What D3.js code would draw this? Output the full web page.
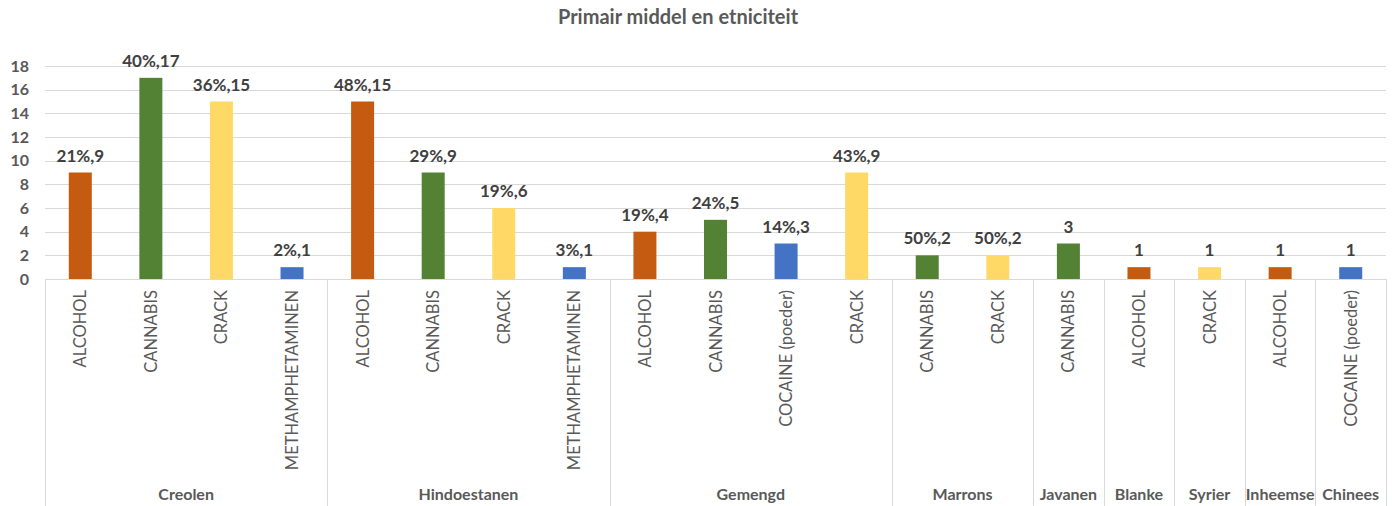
<!DOCTYPE html>
<html>
<head>
<meta charset="utf-8">
<script src="https://cdn.jsdelivr.net/npm/d3@7"></script>
<style>
  body { margin: 0; background: #fff; }
  text { font-family: Lato, "Open Sans", sans-serif; }
</style>
</head>
<body>
<div id="chart"></div>
<script>
// data
var groups = ["Creolen", "Creolen", "Creolen", "Creolen",
  "Hindoestanen", "Hindoestanen", "Hindoestanen", "Hindoestanen",
  "Gemengd", "Gemengd", "Gemengd", "Gemengd",
  "Marrons", "Marrons", "Javanen", "Blanke", "Syrier", "Inheemse", "Chinees"];
var drugs = ["ALCOHOL", "CANNABIS", "CRACK", "METHAMPHETAMINEN",
  "ALCOHOL", "CANNABIS", "CRACK", "METHAMPHETAMINEN",
  "ALCOHOL", "CANNABIS", "COCAINE (poeder)", "CRACK",
  "CANNABIS", "CRACK", "CANNABIS", "ALCOHOL", "CRACK", "ALCOHOL", "COCAINE (poeder)"];
var values = [9, 17, 15, 1, 15, 9, 6, 1, 4, 5, 3, 9, 2, 2, 3, 1, 1, 1, 1];
var valueLabels = ["21%,9", "40%,17", "36%,15", "2%,1", "48%,15", "29%,9", "19%,6", "3%,1",
  "19%,4", "24%,5", "14%,3", "43%,9", "50%,2", "50%,2", "3", "1", "1", "1", "1"];
var yTicks = [0, 2, 4, 6, 8, 10, 12, 14, 16, 18];

var drugColor = {
  "ALCOHOL": "#C55A11",
  "CANNABIS": "#548235",
  "CRACK": "#FFD966",
  "METHAMPHETAMINEN": "#4472C4",
  "COCAINE (poeder)": "#4472C4"
};

var W = 1392, H = 506;
var margin = { top: 66, right: 6, bottom: 227, left: 45 };
var width = W - margin.left - margin.right,
    height = H - margin.top - margin.bottom;

var svg = d3.select("#chart").append("svg")
  .attr("width", W).attr("height", H);

svg.append("text")
  .attr("x", 678).attr("y", 24)
  .attr("text-anchor", "middle")
  .style("font-size", "20px").style("font-weight", "bold")
  .style("fill", "#595959")
  .text("Primair middel en etniciteit");

var g = svg.append("g")
  .attr("transform", "translate(" + margin.left + "," + margin.top + ")");

var idx = d3.range(values.length);
var x = d3.scaleBand().domain(idx).range([0, width]).paddingInner(0).paddingOuter(0);
var y = d3.scaleLinear().domain([0, 18]).range([height, 0]);

// gridlines
g.selectAll(".grid")
  .data(yTicks)
  .enter().append("line")
  .attr("x1", 0).attr("x2", width)
  .attr("y1", function (d) { return Math.round(y(d)) + 0.5; })
  .attr("y2", function (d) { return Math.round(y(d)) + 0.5; })
  .attr("stroke", "#d9d9d9");

// y axis labels
g.selectAll(".ylab")
  .data(yTicks)
  .enter().append("text")
  .attr("x", -16).attr("y", function (d) { return y(d); })
  .attr("dy", "0.35em")
  .attr("text-anchor", "end")
  .style("font-size", "16px").style("font-weight", "bold")
  .style("fill", "#595959")
  .text(function (d) { return d; });

// bars
var bw = 23;
g.selectAll(".bar")
  .data(idx)
  .enter().append("rect")
  .attr("x", function (i) { return x(i) + (x.bandwidth() - bw) / 2; })
  .attr("y", function (i) { return y(values[i]); })
  .attr("width", bw)
  .attr("height", function (i) { return height - y(values[i]); })
  .attr("fill", function (i) { return drugColor[drugs[i]]; });

// value labels
g.selectAll(".vlab")
  .data(idx)
  .enter().append("text")
  .attr("x", function (i) { return x(i) + x.bandwidth() / 2; })
  .attr("y", function (i) { return y(values[i]) - 11; })
  .attr("text-anchor", "middle")
  .style("font-size", "17px").style("font-weight", "bold")
  .style("fill", "#404040")
  .text(function (i) { return valueLabels[i]; });

// category labels (rotated)
g.selectAll(".clab")
  .data(idx)
  .enter().append("text")
  .attr("transform", function (i) {
    return "translate(" + (x(i) + x.bandwidth() / 2 + 6) + "," + (height + 11) + ") rotate(-90)";
  })
  .attr("text-anchor", "end")
  .style("font-size", "16.5px")
  .style("fill", "#595959")
  .text(function (i) { return drugs[i]; });

// group separators and labels
var groupSpans = [];
groups.forEach(function (gr, i) {
  var last = groupSpans[groupSpans.length - 1];
  if (last && last.name === gr) last.end = i;
  else groupSpans.push({ name: gr, start: i, end: i });
});

var bounds = [0].concat(groupSpans.map(function (s) { return x(s.end) + x.bandwidth(); }));
g.selectAll(".sep")
  .data(bounds)
  .enter().append("line")
  .attr("x1", function (d) { return Math.round(d) + 0.5; })
  .attr("x2", function (d) { return Math.round(d) + 0.5; })
  .attr("y1", height).attr("y2", H - margin.top)
  .attr("stroke", "#d9d9d9");

g.selectAll(".glab")
  .data(groupSpans)
  .enter().append("text")
  .attr("x", function (s) { return (x(s.start) + x(s.end) + x.bandwidth()) / 2; })
  .attr("y", height + 221)
  .attr("text-anchor", "middle")
  .style("font-size", "16px").style("font-weight", "bold")
  .style("fill", "#595959")
  .text(function (s) { return s.name; });
</script>
</body>
</html>
